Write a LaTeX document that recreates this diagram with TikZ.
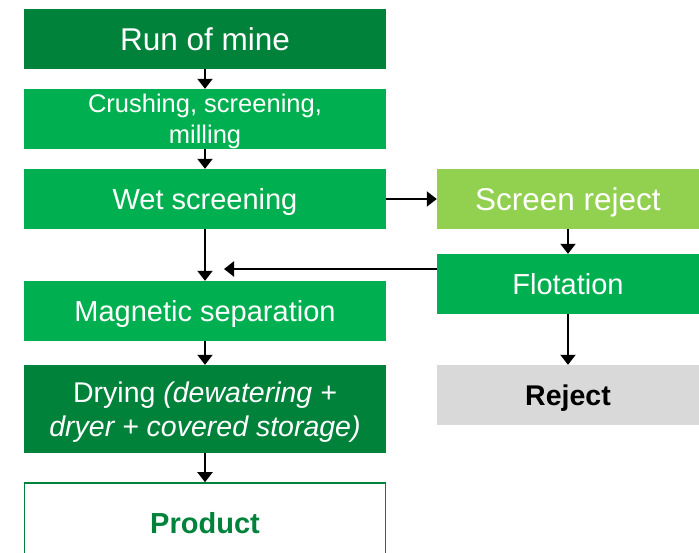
\documentclass[tikz,border=0pt]{standalone}
\usepackage{fontspec}
\setmainfont{Liberation Sans}
\usepackage{xcolor}
\usetikzlibrary{arrows.meta, positioning, calc}
\definecolor{minedark}{RGB}{0, 130, 59}
\definecolor{minegreen}{RGB}{0, 176, 80}
\definecolor{minelight}{RGB}{146, 208, 80}
\definecolor{minegrey}{RGB}{217, 217, 217}
\tikzset{
    box/.style={
        rectangle, minimum width=362pt, minimum height=60pt, inner sep=0pt,
        text height=21pt, text depth=0pt,
        text=white, align=center, font=\fontsize{29}{34}\selectfont
    },
    darkbox/.style={box, fill=minedark},
    greenbox/.style={box, fill=minegreen},
    lightbox/.style={box, fill=minelight, minimum width=262pt, text height=22.5pt, font=\fontsize{31.5}{36}\selectfont},
    sidebox/.style={box, fill=minegreen, minimum width=262pt},
    greybox/.style={box, fill=minegrey, text=black, minimum width=262pt, font=\fontsize{28.5}{34}\selectfont\bfseries},
    productbox/.style={box, draw=minedark, line width=1.6pt, fill=white, text=minedark,
        minimum width=361pt, minimum height=80pt, font=\fontsize{29}{34}\selectfont\bfseries},
    arrow/.style={-{Triangle[length=10pt, width=15pt]}, line width=2pt, color=black},
}

\begin{document}
\begin{tikzpicture}[x=1pt, y=-1pt]
        \useasboundingbox (0,0) rectangle (699,553);
        % main line
        \node[darkbox, text height=22.5pt, font=\fontsize{31.5}{36}\selectfont] (rom) at (205,39) {Run of mine};
        \node[greenbox, text height=49pt, font=\fontsize{25.5}{31}\selectfont] (crush) at (205,119) {Crushing, screening,\\ milling};
        \node[greenbox] (wet) at (205,199) {Wet screening};
        \node[greenbox] (mag) at (205,311) {Magnetic separation};
        \node[darkbox, minimum height=88pt, text height=54.5pt, font=\fontsize{28.5}{34}\selectfont] (dry) at (205,409)
            {Drying {\itshape (dewatering +}\\{\itshape dryer + covered storage)}};
        \node[productbox] (prod) at (205,523) {Product};
        % reject line
        \node[lightbox] (srej) at (568,199) {Screen reject};
        \node[sidebox] (flot) at (568,284) {Flotation};
        \node[greybox] (rej) at (568,395) {Reject};
        \coordinate (merge) at (224,269);
        % arrows
        \draw[arrow] (rom) -- (crush);
        \draw[arrow] (crush) -- (wet);
        \draw[arrow] (wet) -- (mag);
        \draw[arrow] (mag) -- (dry);
        \draw[arrow] (dry) -- (prod);
        \draw[arrow] (wet) -- (srej);
        \draw[arrow] (srej) -- (flot);
        \draw[arrow] (flot) -- (rej);
        \draw[arrow] (flot.west |- merge) -- (merge);
    \end{tikzpicture}
\end{document}
